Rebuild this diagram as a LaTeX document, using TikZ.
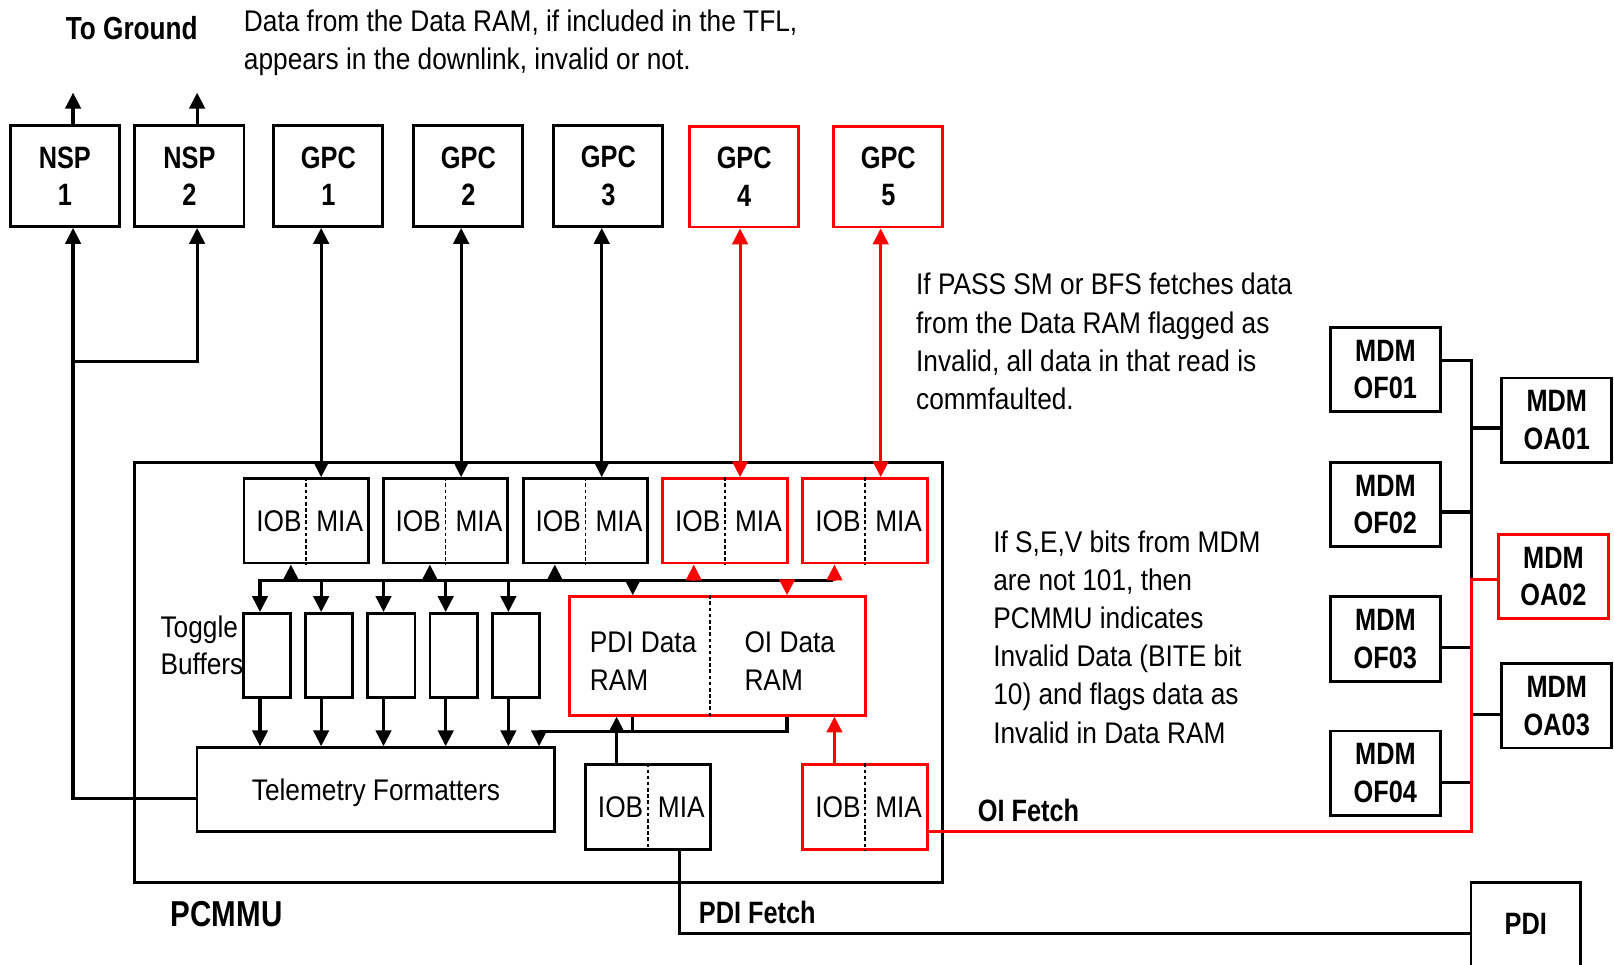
\documentclass[tikz,border=0pt]{standalone}
\usepackage{fontspec}
\setmainfont{Liberation Sans}[FakeStretch=0.88]
\newfontfamily\bfn{Liberation Sans}[FakeStretch=0.82]
\usetikzlibrary{arrows.meta}
\newcommand{\IOMIA}[3]{%
  \node[iobox, draw=#3] (#1) at (#2) {};
  \draw[divl] (#1.north) -- (#1.south);
  \node[rg] (#1-l) at ([xshift=-26.5pt]#1.center) {IOB};
  \node[rg] (#1-r) at ([xshift=32.5pt]#1.center) {MIA};
}
\begin{document}
\begin{tikzpicture}[x=1pt,y=-1pt,
  rg/.style={font=\fontsize{29}{37}\selectfont, inner sep=0pt, outer sep=0pt},
  bd/.style={font=\bfn\bfseries\fontsize{30}{36.5}\selectfont, inner sep=0pt, outer sep=0pt},
  box/.style={draw=black, line width=2.8pt, inner sep=0pt, align=center, font=\bfn\bfseries\fontsize{30}{36.5}\selectfont},
  topbox/.style={box, minimum width=106pt, minimum height=98pt},
  mdm/.style={box, minimum width=106.6pt, minimum height=82pt},
  iobox/.style={draw=black, line width=2.8pt, inner sep=0pt, minimum width=121pt, minimum height=82pt},
  bufbox/.style={draw=black, line width=2.8pt, inner sep=0pt, minimum width=46pt, minimum height=82pt},
  conn/.style={draw=black, line width=3.1pt},
  rconn/.style={draw=red, line width=3.1pt},
  oneway/.style={-{Triangle[length=15.5pt,width=15pt]}},
  twoway/.style={{Triangle[length=15.5pt,width=15pt]}-{Triangle[length=15.5pt,width=15pt]}},
  divl/.style={draw=black, line width=1.9pt, dash pattern=on 3.5pt off 2.5pt},
]
\useasboundingbox (0,0) rectangle (1568,937);
\clip (0,0) rectangle (1568,937);

% ---------- texts ----------
\node[bd, font=\bfn\bfseries\fontsize{31}{36.5}\selectfont, anchor=base west] (tognd) at (64,38.6) {To Ground};
\node[rg, anchor=north west, align=left] (note1) at (237,9.5) {Data from the Data RAM, if included in the TFL,\\appears in the downlink, invalid or not.};
\node[rg, anchor=north west, align=left] (note2) at (890,265.5) {If PASS SM or BFS fetches data\\from the Data RAM flagged as\\Invalid, all data in that read is\\commfaulted.};
\node[rg, anchor=north west, align=left] (note3) at (965,515.8) {If S,E,V bits from MDM\\are not 101, then\\PCMMU indicates\\Invalid Data (BITE bit\\10) and flags data as\\Invalid in Data RAM};

% ---------- top row ----------
\node[topbox] (nsp1) at (63,171) {NSP\\1};
\node[topbox] (nsp2) at (184,171) {NSP\\2};
\node[topbox] (gpc1) at (319,171) {GPC\\1};
\node[topbox] (gpc2) at (455,171) {GPC\\2};
\node[topbox] (gpc3) at (591,171) {GPC\\3};
\node[topbox, draw=red] (gpc4) at (723,171.5) {GPC\\4};
\node[topbox, draw=red] (gpc5) at (863,171.5) {GPC\\5};

% ---------- PCMMU ----------
\node[draw=black, line width=2.8pt, inner sep=0pt, minimum width=785pt, minimum height=408pt] (pcmmu) at (523.5,653) {};
\node[bd, font=\bfn\bfseries\fontsize{35}{40}\selectfont, anchor=base west] (pcmmul) at (166,900) {PCMMU};

\IOMIA{io1}{297.5,506}{black}
\IOMIA{io2}{432.8,506}{black}
\IOMIA{io3}{568.8,506}{black}
\IOMIA{io4}{704.3,506}{red}
\IOMIA{io5}{840.5,506}{red}
\IOMIA{iop}{629.4,784}{black}
\IOMIA{ioo}{840.5,784}{red}

\node[bufbox] (b1) at (259.6,637) {};
\node[bufbox] (b2) at (319.8,637) {};
\node[bufbox] (b3) at (380.2,637) {};
\node[bufbox] (b4) at (440.7,637) {};
\node[bufbox] (b5) at (501.2,637) {};
\node[rg, font=\fontsize{29}{36}\selectfont, anchor=north west, align=left] (tog) at (156,598.3) {Toggle\\Buffers};

\node[draw=red, line width=2.8pt, inner sep=0pt, minimum width=287pt, minimum height=115pt] (ram) at (697.1,637.2) {};
\coordinate (rdiv) at (689.3,0);
\draw[divl] (ram.north -| rdiv) -- (ram.south -| rdiv);
\node[rg, anchor=north west, align=left] (pdiram) at (573,614) {PDI Data\\RAM};
\node[rg, anchor=north west, align=left] (oiram) at (723.3,614) {OI Data\\RAM};

\node[draw=black, line width=2.8pt, inner sep=0pt, minimum width=347.6pt, minimum height=81.6pt, font=\fontsize{29}{37}\selectfont, text depth=0pt] (tf) at (365.2,767.2) {Telemetry Formatters};

% ---------- MDMs and PDI ----------
\node[mdm] (of1) at (1345.9,359) {MDM\\OF01};
\node[mdm] (of2) at (1345.9,490) {MDM\\OF02};
\node[mdm] (of3) at (1345.9,620.7) {MDM\\OF03};
\node[mdm] (of4) at (1345.9,751.2) {MDM\\OF04};
\node[mdm] (oa1) at (1512.4,408.2) {MDM\\OA01};
\node[mdm, draw=red] (oa2) at (1509.1,560.2) {MDM\\OA02};
\node[mdm] (oa3) at (1512.4,685.7) {MDM\\OA03};
\node[mdm, minimum height=81pt] (pdi) at (1482.3,898) {PDI};

\node[bd, anchor=base west] (oif) at (950,798) {OI Fetch};
\node[bd, anchor=base west] (pdif) at (679,897) {PDI Fetch};

% ---------- coordinates ----------
\coordinate (gnd1) at (71,90);
\coordinate (gnd2) at (191.5,90);
\coordinate (j1) at (71,351.4);
\coordinate (xg1) at (312,0);
\coordinate (xg2) at (448,0);
\coordinate (xg3) at (584.6,0);
\coordinate (xg4) at (719,0);
\coordinate (xg5) at (855.6,0);
\coordinate (busL) at (252.6,564);
\coordinate (busR) at (809.6,564);
\coordinate (u1) at (282.6,564);
\coordinate (u2) at (417.6,564);
\coordinate (u3) at (539,564);
\coordinate (u4) at (674,564);
\coordinate (u5) at (810.7,564);
\coordinate (d2) at (312,564);
\coordinate (d3) at (372.6,564);
\coordinate (d4) at (433,564);
\coordinate (d5) at (493.9,564);
\coordinate (r1) at (614.7,564);
\coordinate (r2) at (764.6,564);
\coordinate (m1) at (523.7,710.8);
\coordinate (pu) at (599,0);
\coordinate (ou) at (810.7,0);
\coordinate (tfl) at (191.4,775.6);
\coordinate (vtop) at (1429.8,350.4);
\coordinate (vmid) at (1429.8,563);
\coordinate (vbot) at (1429.8,808);
\coordinate (soa1) at (1429.8,415.8);
\coordinate (sof2) at (1429.8,497.4);
\coordinate (sof3) at (1429.8,629.2);
\coordinate (soa3) at (1429.8,694);
\coordinate (sof4) at (1429.8,760);
\coordinate (pf) at (660.3,906.5);

% ---------- connectors ----------
\draw[conn, oneway] (nsp1.north -| gnd1) -- (gnd1);
\draw[conn, oneway] (nsp2.north -| gnd2) -- (gnd2);
\draw[conn, oneway] (tf.west |- tfl) -| (nsp1.south -| gnd1);
\draw[conn, oneway] (j1) -| (nsp2.south -| gnd2);

\draw[conn, twoway] (gpc1.south -| xg1) -- (io1.north -| xg1);
\draw[conn, twoway] (gpc2.south -| xg2) -- (io2.north -| xg2);
\draw[conn, twoway] (gpc3.south -| xg3) -- (io3.north -| xg3);
\draw[rconn, twoway] (gpc4.south -| xg4) -- (io4.north -| xg4);
\draw[rconn, twoway] (gpc5.south -| xg5) -- (io5.north -| xg5);

\draw[conn, oneway] (busR) -- (busL) -- (b1.north -| busL);
\draw[conn, oneway] (u1) -- (io1.south -| u1);
\draw[conn, oneway] (u2) -- (io2.south -| u2);
\draw[conn, oneway] (u3) -- (io3.south -| u3);
\draw[rconn, oneway] (u4) -- (io4.south -| u4);
\draw[rconn, oneway] (u5) -- (io5.south -| u5);
\draw[conn, oneway] (d2) -- (b2.north -| d2);
\draw[conn, oneway] (d3) -- (b3.north -| d3);
\draw[conn, oneway] (d4) -- (b4.north -| d4);
\draw[conn, oneway] (d5) -- (b5.north -| d5);
\draw[conn, oneway] (r1) -- (ram.north -| r1);
\draw[rconn, oneway] (r2) -- (ram.north -| r2);

\draw[conn, oneway] (b1.south -| busL) -- (tf.north -| busL);
\draw[conn, oneway] (b2.south -| d2) -- (tf.north -| d2);
\draw[conn, oneway] (b3.south -| d3) -- (tf.north -| d3);
\draw[conn, oneway] (b4.south -| d4) -- (tf.north -| d4);
\draw[conn, oneway] (b5.south -| d5) -- (tf.north -| d5);

\draw[conn] (ram.south -| r1) -- (r1 |- m1);
\draw[conn, oneway] (ram.south -| r2) |- (m1) -- (tf.north -| m1);
\draw[conn, oneway] (iop.north -| pu) -- (ram.south -| pu);
\draw[rconn, oneway] (ioo.north -| ou) -- (ram.south -| ou);

\draw[conn] (of1.east |- vtop) -- (vtop) -- (vmid);
\draw[conn] (oa1.west |- soa1) -- (soa1);
\draw[conn] (of2.east |- sof2) -- (sof2);
\draw[conn] (of3.east |- sof3) -- (sof3);
\draw[conn] (oa3.west |- soa3) -- (soa3);
\draw[conn] (of4.east |- sof4) -- (sof4);
\draw[rconn] (ioo.east |- vbot) -- (vbot) -- (vmid) -- (oa2.west |- vmid);

\draw[conn] (iop.south -| pf) -- (pf) -- (pdi.west |- pf);
\end{tikzpicture}
\end{document}
